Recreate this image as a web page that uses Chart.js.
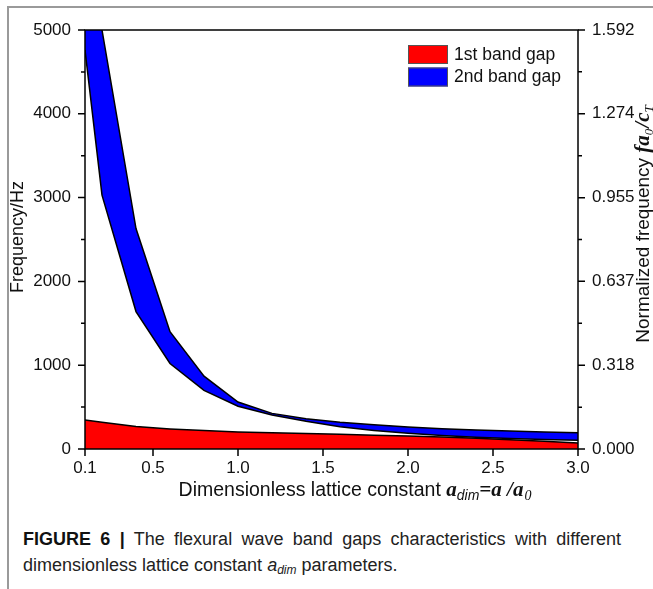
<!DOCTYPE html>
<html>
<head>
<meta charset="utf-8">
<script src="https://cdn.jsdelivr.net/npm/chart.js@4.4.1/dist/chart.umd.min.js"></script>
<style>
  html, body { margin: 0; padding: 0; background: #fff; }
  body { width: 653px; height: 589px; position: relative; overflow: hidden; font-family: "Liberation Sans", Arial, sans-serif; }
  #frame { position: absolute; left: 7px; top: 6px; right: -4px; bottom: -4px; border-top: 2px solid #9a9a9a; border-left: 2px solid #9a9a9a; }
  #chart { position: absolute; left: 0; top: 0; }
  #caption { position: absolute; left: 23px; top: 526px; width: 598px; font-size: 18px; line-height: 26px; color: #222; text-align: justify; }
  #caption b { font-weight: bold; color: #111; }
  #caption sub { font-size: 12px; vertical-align: -3px; line-height: 0; }
</style>
</head>
<body>
<div id="frame"></div>
<canvas id="chart" width="653" height="510"></canvas>
<div id="caption"><b>FIGURE 6 |</b> The flexural wave band gaps characteristics with different dimensionless lattice constant <i>a</i><sub><i>dim</i></sub> parameters.</div>
<script>
(function () {
  "use strict";

  // lattice constant a_dim (x)
  var latticeConst = [0.1, 0.2, 0.4, 0.6, 0.8, 1.0, 1.2, 1.4, 1.6, 1.8, 2.0, 2.2, 2.4, 2.6, 2.8, 3.0];
  // 1st band gap upper edge (Hz), filled down to 0
  var gap1Upper = [346, 320, 268, 240, 220, 203, 193, 184, 175, 165, 155, 142, 128, 110, 92, 72];
  // 2nd band gap edges (Hz)
  var gap2Lower = [4760, 3030, 1640, 1020, 700, 510, 405, 330, 265, 222, 188, 160, 140, 125, 114, 105];
  var gap2Upper = [6900, 5000, 2630, 1400, 870, 560, 425, 360, 318, 288, 262, 243, 227, 214, 203, 195];

  var xTicks = [0.1, 0.5, 1.0, 1.5, 2.0, 2.5, 3.0];
  var yTicks = [0, 1000, 2000, 3000, 4000, 5000];
  var yMinorTicks = [500, 1500, 2500, 3500, 4500];
  var rightTickLabels = ["0.000", "0.318", "0.637", "0.955", "1.274", "1.592"];

  var SANS = '"Liberation Sans", Arial, sans-serif';
  var SERIF = '"Liberation Serif", "Times New Roman", serif';

  function points(ys) {
    return latticeConst.map(function (x, i) {
      return { x: x, y: ys[i] };
    });
  }

  function fixedTicks(values) {
    return function (scale) {
      scale.ticks = values.map(function (v) {
        return { value: v };
      });
    };
  }

  // draw a run of differently styled text pieces starting at x (baseline y)
  function drawRuns(ctx, runs, x, y) {
    runs.forEach(function (r) {
      ctx.font = r.font;
      ctx.fillText(r.text, x, y + (r.dy || 0));
      x += ctx.measureText(r.text).width + (r.gap || 0);
    });
  }
  function runsWidth(ctx, runs) {
    var w = 0;
    runs.forEach(function (r) {
      ctx.font = r.font;
      w += ctx.measureText(r.text).width + (r.gap || 0);
    });
    return w;
  }

  var decorations = {
    id: "decorations",
    afterDraw: function (chart) {
      var ctx = chart.ctx;
      var a = chart.chartArea;
      var sx = chart.scales.x, sy = chart.scales.y, sr = chart.scales.y2;
      ctx.save();
      ctx.strokeStyle = "#000";
      ctx.lineWidth = 1.5;
      ctx.strokeRect(a.left, a.top, a.right - a.left, a.bottom - a.top);

      ctx.beginPath();
      yTicks.forEach(function (v) {
        var y = sy.getPixelForValue(v);
        ctx.moveTo(a.left - 7, y); ctx.lineTo(a.left, y);
      });
      yMinorTicks.forEach(function (v) {
        var y = sy.getPixelForValue(v);
        ctx.moveTo(a.left - 4, y); ctx.lineTo(a.left, y);
      });
      rightTickLabels.forEach(function (t, i) {
        var y = sr.getPixelForValue(parseFloat(t));
        ctx.moveTo(a.right, y); ctx.lineTo(a.right + 7, y);
        if (i > 0) {
          var ym = sr.getPixelForValue((parseFloat(t) + parseFloat(rightTickLabels[i - 1])) / 2);
          ctx.moveTo(a.right, ym); ctx.lineTo(a.right + 4, ym);
        }
      });
      xTicks.forEach(function (v) {
        var x = sx.getPixelForValue(v);
        ctx.moveTo(x, a.bottom); ctx.lineTo(x, a.bottom + 7);
      });
      ctx.stroke();

      // legend
      var lx = a.right - 170, ly = a.top + 15;
      var items = [
        { label: "1st band gap", color: "#ff0000" },
        { label: "2nd band gap", color: "#0000ff" }
      ];
      ctx.lineWidth = 1;
      ctx.strokeStyle = "#555";
      ctx.textBaseline = "middle";
      items.forEach(function (it, i) {
        var by = ly + i * 22.5;
        ctx.fillStyle = it.color;
        ctx.fillRect(lx, by, 40, 19);
        ctx.strokeRect(lx + 0.5, by + 0.5, 39, 18);
        ctx.fillStyle = "#111";
        ctx.font = "17.5px " + SANS;
        ctx.fillText(it.label, lx + 46, by + 10);
      });

      ctx.textBaseline = "alphabetic";
      ctx.fillStyle = "#111";

      // left axis title
      ctx.save();
      ctx.translate(23, 237);
      ctx.rotate(-Math.PI / 2);
      ctx.font = "18px " + SANS;
      ctx.textAlign = "center";
      ctx.fillText("Frequency/Hz", 0, 0);
      ctx.restore();

      // bottom axis title
      var xRuns = [
        { text: "Dimensionless lattice constant ", font: "19.5px " + SANS },
        { text: "a", font: "bold italic 21px " + SERIF },
        { text: "dim", font: "italic 14px " + SANS, dy: 4 },
        { text: "=a /a", font: "bold italic 21px " + SERIF, gap: 1 },
        { text: "0", font: "italic 14px " + SERIF, dy: 4 }
      ];
      var xw = runsWidth(ctx, xRuns);
      drawRuns(ctx, xRuns, 355 - xw / 2, 496);

      // right axis title
      var rRuns = [
        { text: "Normalized frequency ", font: "19px " + SANS },
        { text: "fa", font: "bold italic 21px " + SERIF },
        { text: "0", font: "italic 13px " + SERIF, dy: 4, gap: 1 },
        { text: "/c", font: "bold italic 21px " + SERIF },
        { text: "T", font: "italic 13px " + SERIF, dy: 4 }
      ];
      var rw = runsWidth(ctx, rRuns);
      ctx.save();
      ctx.translate(649, 224);
      ctx.rotate(-Math.PI / 2);
      drawRuns(ctx, rRuns, -rw / 2, 0);
      ctx.restore();

      ctx.restore();
    }
  };

  var tickFont = { family: SANS, size: 17 };

  new Chart(document.getElementById("chart"), {
    type: "line",
    data: {
      datasets: [
        {
          label: "1st band gap",
          data: points(gap1Upper),
          fill: "origin",
          backgroundColor: "#ff0000",
          borderColor: "#000",
          borderWidth: 1.5,
          pointRadius: 0,
          tension: 0
        },
        {
          label: "2nd band gap lower",
          data: points(gap2Lower),
          fill: false,
          borderColor: "#000",
          borderWidth: 1.5,
          pointRadius: 0,
          tension: 0
        },
        {
          label: "2nd band gap",
          data: points(gap2Upper),
          fill: "-1",
          backgroundColor: "#0000ff",
          borderColor: "#000",
          borderWidth: 1.5,
          pointRadius: 0,
          tension: 0
        }
      ]
    },
    options: {
      responsive: false,
      animation: false,
      devicePixelRatio: 1,
      layout: { padding: { top: 30, left: 0, right: 0, bottom: 0 } },
      plugins: { legend: { display: false }, tooltip: { enabled: false } },
      scales: {
        x: {
          type: "linear",
          min: 0.1,
          max: 3.0,
          afterBuildTicks: fixedTicks(xTicks),
          afterFit: function (s) { s.height = 61; },
          grid: { display: false, drawTicks: false },
          border: { display: false },
          ticks: {
            font: tickFont, color: "#111", padding: 9, maxRotation: 0, autoSkip: false,
            callback: function (v) { return Number(v).toFixed(1); }
          }
        },
        y: {
          position: "left",
          min: 0,
          max: 5000,
          afterBuildTicks: fixedTicks(yTicks),
          afterFit: function (s) { s.width = 85; },
          grid: { display: false, drawTicks: false },
          border: { display: false },
          ticks: {
            font: tickFont, color: "#111", padding: 14,
            callback: function (v) { return String(v); }
          }
        },
        y2: {
          position: "right",
          min: 0,
          max: parseFloat(rightTickLabels[rightTickLabels.length - 1]),
          afterBuildTicks: fixedTicks(rightTickLabels.map(parseFloat)),
          afterFit: function (s) { s.width = 75; },
          grid: { display: false, drawTicks: false },
          border: { display: false },
          ticks: {
            font: tickFont, color: "#111", padding: 14,
            callback: function (v) { return Number(v).toFixed(3); }
          }
        }
      }
    },
    plugins: [decorations]
  });
})();
</script>
</body>
</html>
